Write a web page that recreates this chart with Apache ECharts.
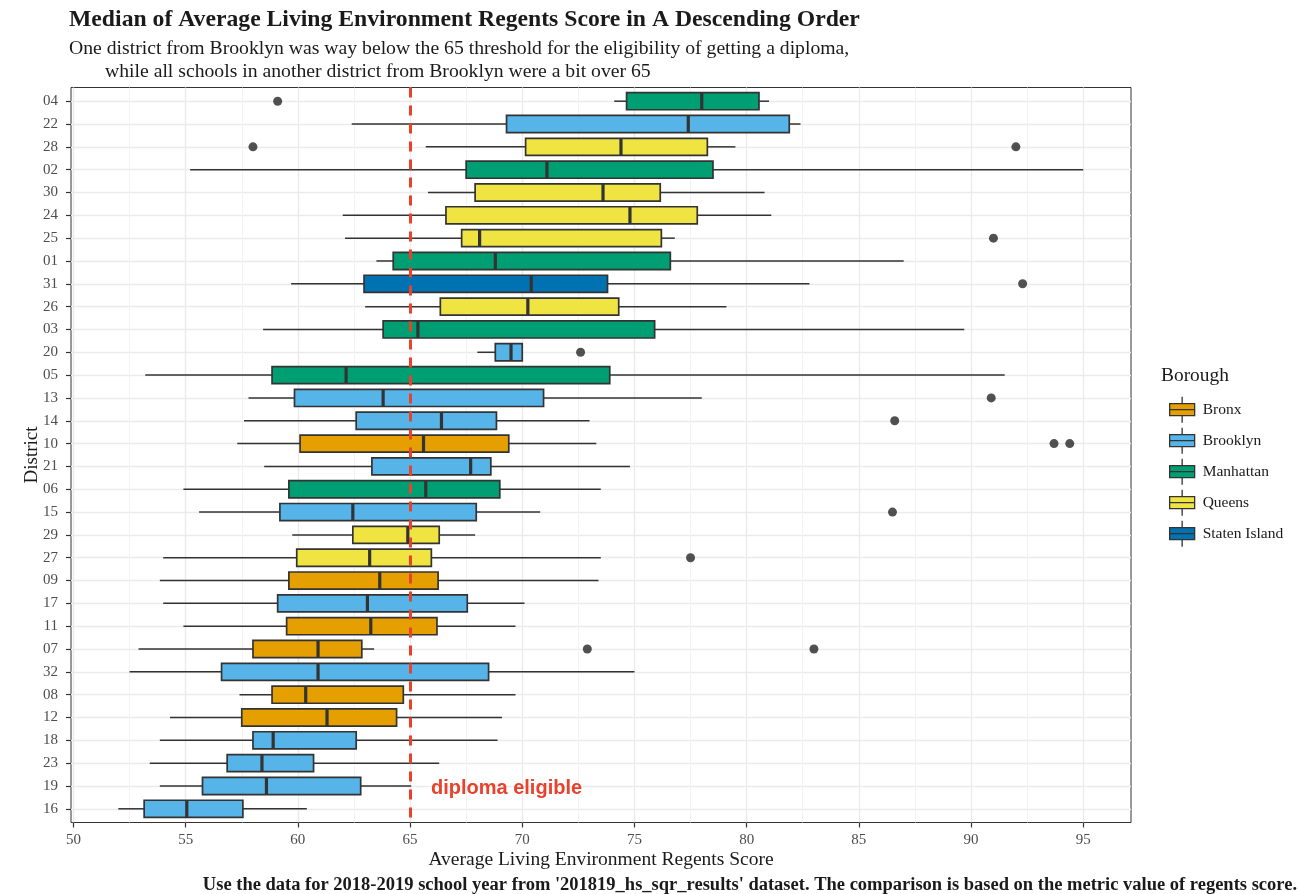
<!DOCTYPE html>
<html>
<head>
<meta charset="utf-8">
<script src="https://cdn.jsdelivr.net/npm/echarts@6/dist/echarts.min.js"></script>
<style>
html,body{margin:0;padding:0;background:#fff;}
#chart{width:1299px;height:894px;}
</style>
</head>
<body>
<div id="chart"></div>
<script>
// ---------------- data ----------------
const districts = ['04','22','28','02','30','24','25','01','31','26','03','20','05','13','14','10','21','06','15','29','27','09','17','11','07','32','08','12','18','23','19','16'];
const borough   = ['Manhattan','Brooklyn','Queens','Manhattan','Queens','Queens','Queens','Manhattan','Staten Island','Queens','Manhattan','Brooklyn','Manhattan','Brooklyn','Brooklyn','Bronx','Brooklyn','Manhattan','Brooklyn','Queens','Queens','Bronx','Brooklyn','Bronx','Bronx','Brooklyn','Bronx','Bronx','Brooklyn','Brooklyn','Brooklyn','Brooklyn'];
const whiskerLow  = [74.1, 62.4, 65.7, 55.2, 65.8, 62.0, 62.1, 63.5, 59.7, 63.0, 58.45, 68.0, 53.2, 57.8, 57.6, 57.3, 58.5, 54.9, 55.6, 59.75, 54.0, 53.85, 54.0, 54.9, 52.9, 52.5, 57.4, 54.3, 53.85, 53.4, 53.85, 52.0];
const q1          = [74.65, 69.3, 70.15, 67.5, 67.9, 66.6, 67.3, 64.25, 62.95, 66.35, 63.8, 68.8, 58.85, 59.85, 62.6, 60.1, 63.3, 59.6, 59.2, 62.45, 59.95, 59.6, 59.1, 59.5, 58.0, 56.6, 58.85, 57.5, 58.0, 56.85, 55.75, 53.15];
const medians     = [78.0, 77.4, 74.4, 71.1, 73.6, 74.8, 68.1, 68.8, 70.4, 70.25, 65.35, 69.5, 62.15, 63.8, 66.4, 65.6, 67.7, 65.7, 62.45, 64.9, 63.2, 63.65, 63.1, 63.25, 60.9, 60.9, 60.35, 61.3, 58.9, 58.4, 58.6, 55.05];
const q3          = [80.55, 81.9, 78.25, 78.5, 76.15, 77.8, 76.2, 76.6, 73.8, 74.3, 75.9, 70.0, 73.9, 70.95, 68.85, 69.4, 68.6, 69.0, 67.95, 66.3, 65.95, 66.25, 67.55, 66.2, 62.85, 68.5, 64.7, 64.4, 62.6, 60.7, 62.8, 57.55];
const whiskerHigh = [81.0, 82.4, 79.5, 95.0, 80.8, 81.1, 76.8, 87.0, 82.8, 79.1, 89.7, 70.0, 91.5, 78.0, 73.0, 73.3, 74.8, 73.5, 70.8, 67.9, 73.5, 73.4, 70.1, 69.7, 63.4, 75.0, 69.7, 69.1, 68.9, 66.3, 65.05, 60.4];
const outlierDistrict = ['04','28','28','25','31','20','13','14','10','10','15','27','07','07'];
const outlierValue    = [59.1, 58.0, 92.0, 91.0, 92.3, 72.6, 90.9, 86.6, 93.7, 94.4, 86.5, 77.5, 72.9, 83.0];
const boroughs = ['Bronx','Brooklyn','Manhattan','Queens','Staten Island'];
const boroughColors = ['#E69F00','#56B4E9','#009E73','#F0E442','#0072B2'];
const xTicks = [50,55,60,65,70,75,80,85,90,95];
const xMinorTicks = [52.5,57.5,62.5,67.5,72.5,77.5,82.5,87.5,92.5];
const threshold = 65;

// ---------------- chart ----------------
const SERIF = "'Liberation Serif','DejaVu Serif',serif";
const catIdx = districts.map((d, i) => i);

function renderBox(params, api) {
  const yi = api.value(0);
  const lo = api.coord([api.value(1), yi]);
  const a = api.coord([api.value(2), yi]);
  const m = api.coord([api.value(3), yi]);
  const b = api.coord([api.value(4), yi]);
  const hi = api.coord([api.value(5), yi]);
  const h = Math.abs(api.size([0, 0.75])[1]);
  const fill = api.visual('color');
  return {
    type: 'group',
    children: [
      {type:'line', shape:{x1:lo[0], y1:lo[1], x2:a[0], y2:a[1]}, style:{stroke:'#333333', lineWidth:1.5}},
      {type:'line', shape:{x1:b[0], y1:b[1], x2:hi[0], y2:hi[1]}, style:{stroke:'#333333', lineWidth:1.5}},
      {type:'rect', shape:{x:a[0], y:a[1]-h/2, width:b[0]-a[0], height:h}, style:{fill:fill, stroke:'#333333', lineWidth:1.7}},
      {type:'line', shape:{x1:m[0], y1:m[1]-h/2, x2:m[0], y2:m[1]+h/2}, style:{stroke:'#333333', lineWidth:3.2}}
    ]
  };
}

const boxSeries = boroughs.map((bName, bi) => ({
  name: bName,
  type: 'custom',
  renderItem: renderBox,
  itemStyle: {color: boroughColors[bi], borderColor:'#333333', borderWidth:1.3},
  encode: {y: 0, x: [1,2,3,4,5]},
  z: 3,
  data: catIdx.filter(i => borough[i] === bName).map(i => [i, whiskerLow[i], q1[i], medians[i], q3[i], whiskerHigh[i]])
}));

const option = {
  backgroundColor: '#ffffff',
  animation: false,
  title: [
    {text: 'Median of Average Living Environment Regents Score in A Descending Order', left: 64, top: 3,
     textStyle: {fontFamily: SERIF, fontWeight: 'bold', fontSize: 23.7, color: '#1a1a1a'}},
    {text: 'One district from Brooklyn was way below the 65 threshold for the eligibility of getting a diploma,', left: 64, top: 34,
     textStyle: {fontFamily: SERIF, fontWeight: 'normal', fontSize: 19.7, color: '#1a1a1a'}},
    {text: 'while all schools in another district from Brooklyn were a bit over 65', left: 100, top: 57,
     textStyle: {fontFamily: SERIF, fontWeight: 'normal', fontSize: 19.7, color: '#1a1a1a'}},
    {text: 'Borough', left: 1156, top: 361,
     textStyle: {fontFamily: SERIF, fontWeight: 'normal', fontSize: 19.4, color: '#1a1a1a'}},
    {text: "Use the data for 2018-2019 school year from '201819_hs_sqr_results' dataset. The comparison is based on the metric value of regents score.", right: -3, top: 871,
     textStyle: {fontFamily: SERIF, fontWeight: 'bold', fontSize: 18.5, color: '#1a1a1a'}}
  ],
  legend: {
    orient: 'vertical',
    left: 1164, top: 391,
    itemWidth: 25, itemHeight: 26, itemGap: 3.7,
    icon: 'path://M12.5,0 L12.5,7 M0,7 L25,7 L25,19 L0,19 Z M0,13 L25,13 M12.5,19 L12.5,26',
    itemStyle: {borderColor: '#333333', borderWidth: 1.3},
    textStyle: {fontFamily: SERIF, fontSize: 15.5, color: '#1a1a1a', padding: [0,0,0,3], lineHeight: 18},
    data: boroughs
  },
  grid: {left: 71, right: 168, top: 87.5, bottom: 71.5, show: true, borderColor: '#333333', borderWidth: 1, backgroundColor: '#ffffff'},
  xAxis: [
    {
      type: 'value', min: 49.89, max: 97.13,
      name: 'Average Living Environment Regents Score', nameLocation: 'middle', nameGap: 27, nameMoveOverlap: false,
      nameTextStyle: {fontFamily: SERIF, fontSize: 19.5, color: '#1a1a1a'},
      axisLine: {show: false, onZero: false},
      axisTick: {show: true, length: 5, customValues: xTicks, lineStyle: {color: '#333333', width: 1.2}},
      axisLabel: {customValues: xTicks, fontFamily: SERIF, fontSize: 15, color: '#4D4D4D', margin: 10},
      splitLine: {show: true, lineStyle: {color: '#EBEBEB', width: 1.4}}
    },
    {
      type: 'value', min: 49.89, max: 97.13,
      axisLine: {show: false, onZero: false},
      axisTick: {show: false, customValues: xMinorTicks},
      axisLabel: {show: false, customValues: xMinorTicks},
      splitLine: {show: true, lineStyle: {color: '#F2F2F2', width: 0.9}}
    }
  ],
  yAxis: {
    type: 'value', min: -0.6, max: 31.6, inverse: true,
    name: 'District', nameLocation: 'middle', nameGap: 29, nameRotate: 90, nameMoveOverlap: false,
    nameTextStyle: {fontFamily: SERIF, fontSize: 19, color: '#1a1a1a'},
    axisLine: {show: false, onZero: false},
    axisTick: {show: true, length: 5, customValues: catIdx, lineStyle: {color: '#333333', width: 1.2}},
    axisLabel: {customValues: catIdx, formatter: v => districts[Math.round(v)], fontFamily: SERIF, fontSize: 15, color: '#4D4D4D', margin: 13},
    splitLine: {show: true, lineStyle: {color: '#EBEBEB', width: 1.4}}
  },
  series: boxSeries.concat([
    {
      name: 'outliers',
      type: 'scatter',
      symbol: 'circle', symbolSize: 9,
      itemStyle: {color: '#262626'},
      z: 4,
      data: outlierDistrict.map((d, i) => [outlierValue[i], districts.indexOf(d)]),
      markLine: {
        silent: true, symbol: ['none','none'], z: 5,
        label: {show: false},
        lineStyle: {color: '#E8412C', type: [10, 8], width: 3},
        data: [{xAxis: threshold}]
      },
      markPoint: {
        symbol: 'circle', symbolSize: 0,
        label: {show: true, formatter: 'diploma eligible', position: 'inside', color: '#E8412C',
                fontFamily: "'Liberation Sans', Arial, sans-serif", fontWeight: 'bold', fontSize: 20},
        data: [{coord: [69.3, districts.indexOf('19') + 0.1]}]
      }
    }
  ])
};

const chart = echarts.init(document.getElementById('chart'), null, {renderer: 'canvas'});
chart.setOption(option);
</script>
</body>
</html>
